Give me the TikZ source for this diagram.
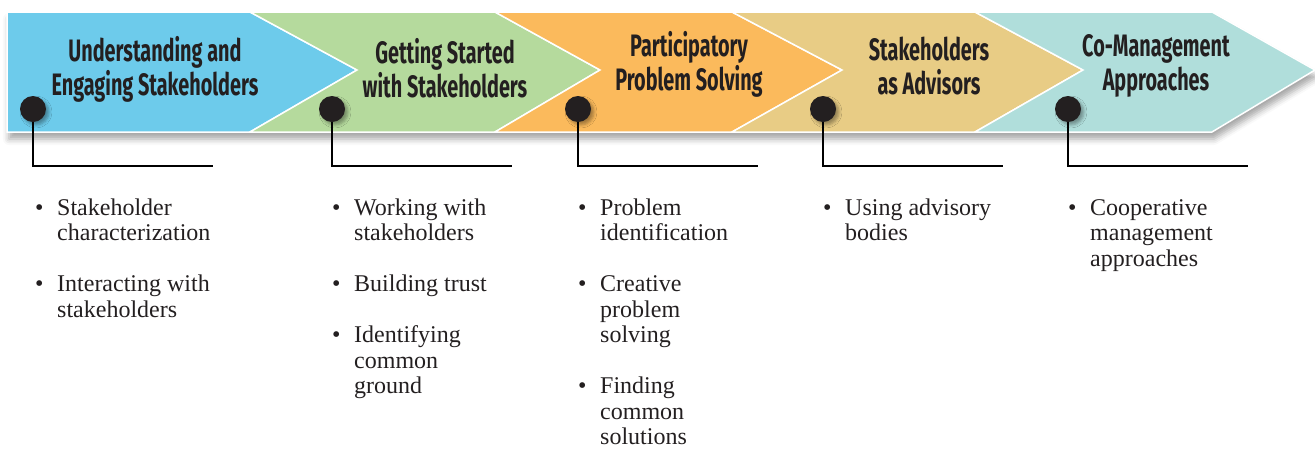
\documentclass[tikz,border=0pt]{standalone}
\usepackage{fontspec}
\setmainfont{Liberation Serif}
\newfontfamily\headfont[FakeStretch=0.64]{Fira Sans}
\usetikzlibrary{shadows.blur}
\definecolor{ink}{HTML}{231F20}
\definecolor{segblue}{HTML}{6DCBEB}
\definecolor{seggreen}{HTML}{B5DA9D}
\definecolor{segorange}{HTML}{FBBA5C}
\definecolor{segtan}{HTML}{E8CC85}
\definecolor{segteal}{HTML}{B0DEDB}

\begin{document}
\begin{tikzpicture}[x=1pt, y=-1pt,
  seg/.style={draw=white, line width=1.5pt, line join=miter},
  head/.style={font=\headfont\bfseries\fontsize{31}{34}\selectfont, text=ink, align=center, inner sep=0pt},
  dot/.style={circle, fill=ink, minimum size=26pt, inner sep=0pt,
    blur shadow={shadow xshift=3pt, shadow yshift=-3pt, shadow blur radius=3pt, shadow opacity=35}},
  lead/.style={line width=2pt, black},
  items/.style={anchor=north west, inner sep=0pt, text=ink, font=\fontsize{24}{25.5}\selectfont}]
\useasboundingbox (0,0) rectangle (1315,448);
%\fill[red] (0,0) rectangle (1315,448);
% band with its shadow
\path[fill=white, blur shadow={shadow xshift=2pt, shadow yshift=-7pt, shadow blur radius=6pt, shadow opacity=35}]
  (7,12) -- (1212,12) -- (1315,70) -- (1212,132) -- (7,132) -- cycle;
% segments: left top x / right top x / tip x / colour
\draw[seg, fill=segblue] (7,12) -- (250,12) -- (357,70) -- (250,132) -- (7,132) -- cycle;
\foreach \l/\r/\n/\t/\c in {250/495/357/600/seggreen, 495/732/600/842/segorange,
    732/975/842/1083/segtan, 975/1212/1083/1315/segteal}
  \draw[seg, fill=\c] (\l,12) -- (\r,12) -- (\t,70) -- (\r,132) -- (\l,132) -- (\n,70) -- cycle;
% titles
\node[head] (h1) at (155,69) {Understanding and\\Engaging Stakeholders};
\node[head] (h2) at (445,68) {Getting Started\\with Stakeholders};
\node[head] (h3) at (689,64) {Participatory\\Problem Solving};
\node[head] (h4) at (929,66) {Stakeholders\\as Advisors};
\node[head] (h5) at (1156,66) {Co-Management\\Approaches};
% dots and leads
\foreach \i/\x in {1/33, 2/332, 3/578, 4/823, 5/1068} {
  \coordinate (c\i) at (\x,166);
  \coordinate (e\i) at (\x+180,166);
  \draw[lead] (\x,109) -- (c\i) -- (e\i);
  \node[dot] (d\i) at (\x,109) {};
}
% lists
\node[items] (l1) at (35,197) {\begin{tabular}{@{}p{22pt}@{}l@{}}
  \textbullet & Stakeholder\\ & characterization\\[25.5pt]
  \textbullet & Interacting with\\ & stakeholders\end{tabular}};
\node[items] (l2) at (332,197) {\begin{tabular}{@{}p{22pt}@{}l@{}}
  \textbullet & Working with\\ & stakeholders\\[25.5pt]
  \textbullet & Building trust\\[25.5pt]
  \textbullet & Identifying\\ & common\\ & ground\end{tabular}};
\node[items] (l3) at (578,197) {\begin{tabular}{@{}p{22pt}@{}l@{}}
  \textbullet & Problem\\ & identification\\[25.5pt]
  \textbullet & Creative\\ & problem\\ & solving\\[25.5pt]
  \textbullet & Finding\\ & common\\ & solutions\end{tabular}};
\node[items] (l4) at (823,197) {\begin{tabular}{@{}p{22pt}@{}l@{}}
  \textbullet & Using advisory\\ & bodies\end{tabular}};
\node[items] (l5) at (1068,197) {\begin{tabular}{@{}p{22pt}@{}l@{}}
  \textbullet & Cooperative\\ & management\\ & approaches\end{tabular}};
\end{tikzpicture}
\end{document}
